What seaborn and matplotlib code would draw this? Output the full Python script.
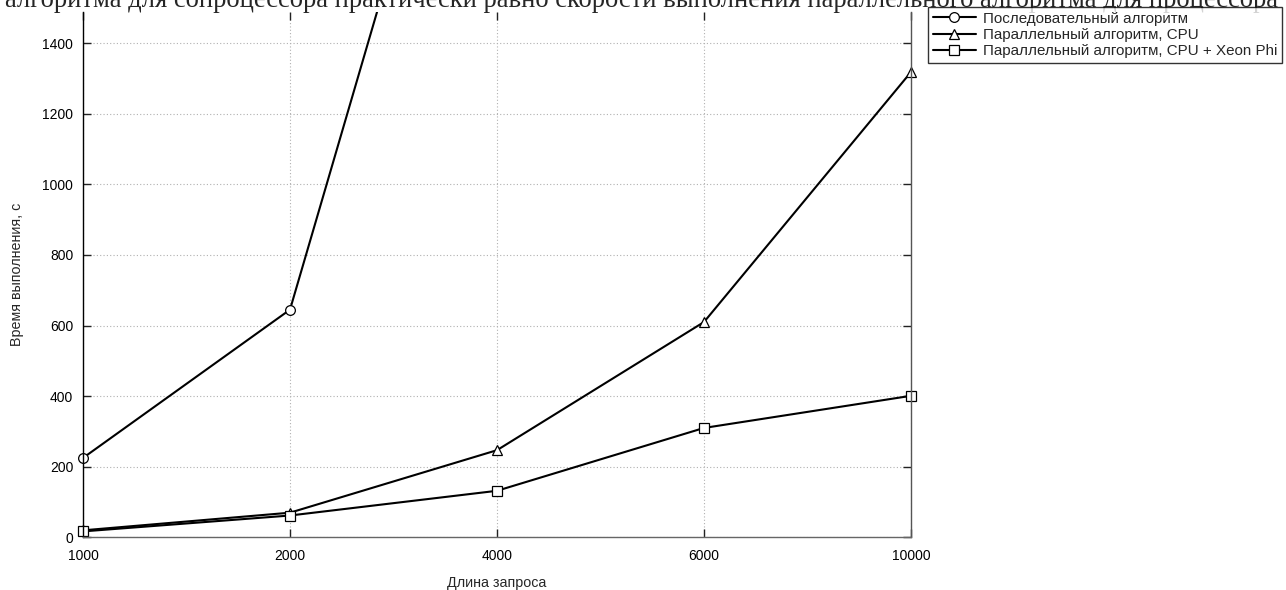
import numpy as np
import pandas as pd
import matplotlib
matplotlib.use("Agg")
import matplotlib.pyplot as plt
from matplotlib.transforms import Bbox, TransformedBbox
import seaborn as sns

# ---- data ----
categories = ["1000", "2000", "4000", "6000", "10000"]
series_names = ["Последовательный алгоритм",
                "Параллельный алгоритм, CPU",
                "Параллельный алгоритм, CPU + Xeon Phi"]
seq_values = [225, 645, 2650, np.nan, np.nan]
cpu_values = [20, 70, 247, 610, 1318]
phi_values = [17, 62, 132, 310, 401]
y_ticks = [0, 200, 400, 600, 800, 1000, 1200, 1400]
title_text = ("алгоритма для сопроцессора практически равно скорости "
              "выполнения параллельного алгоритма для процессора")
x_label = "Длина запроса"
y_label = "Время выполнения, с"

rows = []
for name, vals in zip(series_names, [seq_values, cpu_values, phi_values]):
    for i, (c, v) in enumerate(zip(categories, vals)):
        rows.append({"pos": i, "cat": c, "series": name, "value": v})
df = pd.DataFrame(rows).dropna()

sns.set_style("white")
plt.rcParams["font.family"] = ["Liberation Sans", "DejaVu Sans"]

W, H = 1286, 590
fig = plt.figure(figsize=(W / 100, H / 100), dpi=100)
ax = fig.add_axes([83 / W, 1 - 537.4 / H, (911 - 83) / W, (537.4 - 12) / H])

markers = {series_names[0]: "o", series_names[1]: "^", series_names[2]: "s"}
sns.lineplot(data=df, x="pos", y="value", hue="series", style="series",
             hue_order=series_names, style_order=series_names,
             palette=["black"] * 3, markers=markers, dashes=False,
             markersize=7, markerfacecolor="white", markeredgecolor="black",
             markeredgewidth=0.9, linewidth=1.5, ax=ax, legend=False)

# let markers at the side edges show fully, but clip at the top
clip = TransformedBbox(Bbox([[-0.05, -0.05], [1.05, 1.0]]), ax.transAxes)
for ln in ax.lines:
    ln.set_clip_box(clip)

ax.set_xlim(0, len(categories) - 1)
ax.set_ylim(0, 1488)
ax.set_xticks(range(len(categories)))
ax.set_xticklabels(categories)
ax.set_yticks(y_ticks)
ax.grid(True, linestyle=(0, (1, 2)), color="#b0b0b0", linewidth=0.8)
ax.tick_params(direction="in", length=6, width=1, colors="#222222",
               labelcolor="black", labelsize=10, top=True, right=True,
               bottom=True, left=True)
ax.tick_params(axis="x", pad=8)
ax.tick_params(axis="y", pad=7)
ax.spines["top"].set_visible(False)
ax.spines["left"].set_color("black")
ax.spines["bottom"].set_color("#666666")
ax.spines["right"].set_color("#555555")
for s in ["left", "bottom", "right"]:
    ax.spines[s].set_linewidth(1.0)

ax.set_xlabel(x_label, fontsize=10.3, labelpad=10)
ax.set_ylabel(y_label, fontsize=10.3, labelpad=13)

handles = ax.lines[:3]
leg = fig.legend(handles, series_names, loc="upper left",
                 bbox_to_anchor=(928 / W, 1 - 7 / H), frameon=True,
                 fancybox=False, edgecolor="black", fontsize=10.9,
                 handlelength=2.9, handletextpad=0.45, borderpad=0.3,
                 labelspacing=0.16, borderaxespad=0)
leg.get_frame().set_linewidth(1.0)

fig.text(5 / W, 1 - 7 / H, title_text, fontsize=19.2,
         family=["Liberation Serif", "DejaVu Serif"], va="baseline", ha="left")

fig.savefig("out.png", dpi=100)
